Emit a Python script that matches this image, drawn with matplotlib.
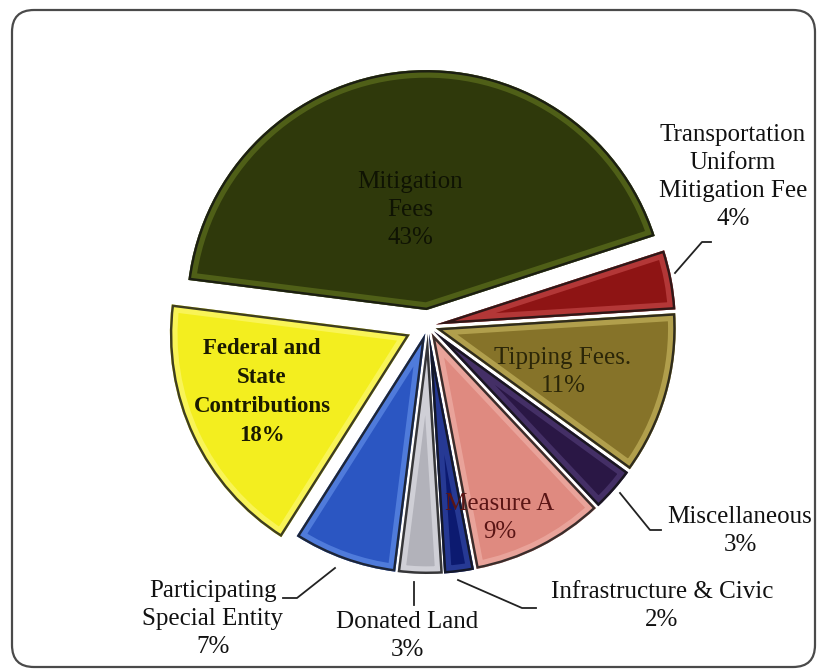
import matplotlib
matplotlib.use("Agg")
import matplotlib.pyplot as plt
from matplotlib.patches import Wedge, FancyBboxPatch

# ---- data ----
categories = ["Mitigation Fees", "Transportation Uniform Mitigation Fee", "Tipping Fees",
              "Miscellaneous", "Measure A", "Infrastructure & Civic", "Donated Land",
              "Participating Special Entity", "Federal and State Contributions"]
values = [43, 4, 11, 3, 9, 2, 3, 7, 18]
label_texts = ["Mitigation\nFees\n43%", "Transportation\nUniform\nMitigation Fee\n4%",
               "Tipping Fees.\n11%", "Miscellaneous\n3%", "Measure A\n9%",
               "Infrastructure & Civic\n2%", "Donated Land\n3%",
               "Participating\nSpecial Entity\n7%", "Federal and\nState\nContributions\n18%"]

# ---- style ----
base_colors = ["#2f390b", "#8e1414", "#867329", "#2a1745", "#df8a80",
               "#0c1a70", "#b2b2ba", "#2b56c2", "#f3ee1f"]
hi_colors = ["#6f8524", "#d85a5a", "#dccc70", "#5e4888", "#f4bdb5",
             "#4058b8", "#ececf2", "#74a0f4", "#fffb90"]
explode = [16, 8, 8, 8, 8, 8, 8, 8, 20]

W, H = 817, 671
fig = plt.figure(figsize=(W / 100, H / 100), dpi=100)
ax = fig.add_axes([0, 0, 1, 1])

def Y(y):
    return H - y

wedges, _ = ax.pie(values, explode=explode, colors=base_colors, startangle=172.8,
                   counterclock=False, radius=240, center=(428, Y(326)),
                   wedgeprops=dict(edgecolor="none", linewidth=0))

# bevel effect
for w, hc in zip(wedges, hi_colors):
    rim = Wedge(w.center, w.r, w.theta1, w.theta2, facecolor="none",
                edgecolor=hc, linewidth=11, alpha=0.5, zorder=3)
    rim.set_clip_path(w)
    ax.add_patch(rim)
    rim2 = Wedge(w.center, w.r, w.theta1, w.theta2, facecolor="none",
                 edgecolor="#101010", linewidth=3.5, alpha=0.8, zorder=4)
    rim2.set_clip_path(w)
    ax.add_patch(rim2)

font = "Liberation Serif"

def lab(x, y, s, size=18, ls=1.34, **kw):
    kw.setdefault("color", "#111111")
    ax.text(x, Y(y), s, ha="center", va="center", fontsize=size, family=font,
            linespacing=ls, zorder=6, **kw)

# inside labels
lab(410, 210, label_texts[0], color="#0f1303")
lab(563, 372, label_texts[2], ls=1.36, color="#2b2608")
lab(500, 518, label_texts[4], ls=1.4, color="#5a1515")
lab(262, 392, label_texts[8], size=16.5, ls=1.5, weight="bold", color="#1a1a00")

# outside labels
lab(733, 177, label_texts[1], ls=1.37)
lab(740, 531, label_texts[3])
lab(662, 606, label_texts[5])
lab(407, 636, label_texts[6])
lab(213, 619, label_texts[7], ls=1.37)

# leader lines
lk = dict(color="#222222", linewidth=1.3, zorder=5)
ax.plot([675, 702, 711], [Y(273), Y(242), Y(242)], **lk)
ax.plot([620, 650, 661], [Y(493), Y(530), Y(530)], **lk)
ax.plot([458, 522, 536], [Y(580), Y(608), Y(608)], **lk)
ax.plot([414, 414], [Y(582), Y(605)], **lk)
ax.plot([335, 297, 283], [Y(568), Y(598), Y(598)], **lk)

# frame
frame = FancyBboxPatch((12, Y(667)), 803, 657, boxstyle="round,pad=0,rounding_size=22",
                       facecolor="none", edgecolor="#4a4a4a", linewidth=1.6, zorder=1)
ax.add_patch(frame)

ax.set_xlim(0, W)
ax.set_ylim(0, H)
ax.set_aspect("equal")
ax.axis("off")
fig.savefig("out.png", dpi=100)
